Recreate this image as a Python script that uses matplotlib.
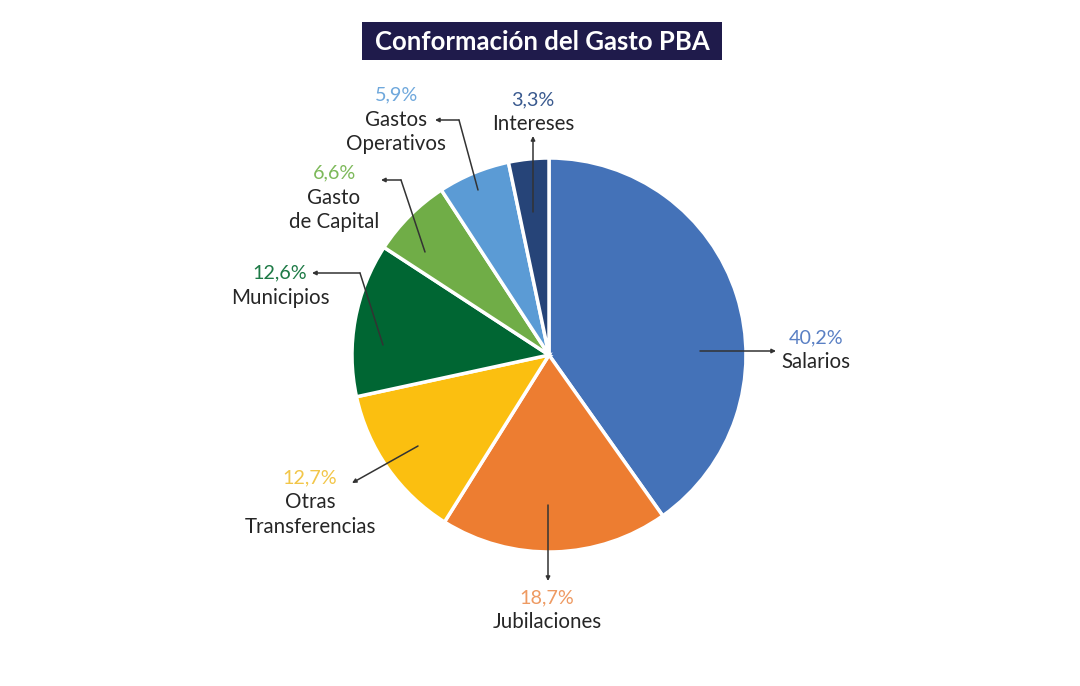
import matplotlib
matplotlib.use("Agg")
import matplotlib.pyplot as plt
from matplotlib.patches import Rectangle

plt.rcParams['font.family'] = ['Lato', 'DejaVu Sans']

title = "Conformación del Gasto PBA"
categories = ["Salarios", "Jubilaciones", "Otras\nTransferencias", "Municipios",
              "Gasto\nde Capital", "Gastos\nOperativos", "Intereses"]
values = [40.2, 18.7, 12.7, 12.6, 6.6, 5.9, 3.3]
pct_labels = ["40,2%", "18,7%", "12,7%", "12,6%", "6,6%", "5,9%", "3,3%"]
wedge_colors = ["#4472B8", "#ED7D31", "#FBBF10", "#006633", "#70AD47", "#5B9BD5", "#264478"]
pct_colors = ["#5A80C4", "#EE9A62", "#F2C649", "#1E7A46", "#7DB95A", "#6FA8DC", "#3A5A8F"]

W, H = 1080, 686
fig = plt.figure(figsize=(W / 100, H / 100), dpi=100)
ax = fig.add_axes([0, 0, 1, 1])

def Y(py):
    return H - py

# Pie
cx, cy, r = 549, 355, 197
ax.pie(values, colors=wedge_colors, startangle=90, counterclock=False,
       center=(cx, Y(cy)), radius=r, frame=True,
       wedgeprops=dict(edgecolor='white', linewidth=2.5))
ax.set_xlim(0, W)
ax.set_ylim(0, H)
ax.set_aspect('equal')
ax.axis('off')

# Title
ax.add_patch(Rectangle((362, Y(60)), 360, 38, facecolor='#1F1B4B', edgecolor='none'))
ax.text(542, Y(42), title, color='white', fontsize=18.5, fontweight='bold',
        ha='center', va='center')

# Label positions (percent line centre)
label_pos = [(816, 338), (547, 598), (310, 478), (280, 273), (334, 173), (396, 95), (533, 100)]
gap = 24.5

txt_color = '#262626'
for (x, y), name, pct, pc in zip(label_pos, categories, pct_labels, pct_colors):
    ax.text(x, Y(y), pct, color=pc, fontsize=14.2, ha='center', va='center')
    for i, line in enumerate(name.split("\n")):
        ax.text(x, Y(y + gap * (i + 1)), line, color=txt_color, fontsize=14.8,
                ha='center', va='center')

# Leader lines: list of polyline points, last point is arrow head
leaders = [
    [(700, 351), (776, 351)],
    [(548, 505), (548, 581)],
    [(418, 446), (352, 483)],
    [(383, 345), (360, 273), (312, 273)],
    [(425, 252), (401, 180), (381, 180)],
    [(478, 190), (459, 120), (435, 120)],
    [(533, 212), (533, 136)],
]
lc = '#333333'
for pts in leaders:
    if len(pts) > 2:
        xs = [p[0] for p in pts[:-1]]
        ys = [Y(p[1]) for p in pts[:-1]]
        ax.plot(xs, ys, color=lc, lw=1.1, solid_capstyle='round')
    (x0, y0), (x1, y1) = pts[-2], pts[-1]
    ax.annotate('', xy=(x1, Y(y1)), xytext=(x0, Y(y0)),
                arrowprops=dict(arrowstyle='-|>', color=lc, lw=1.1,
                                mutation_scale=6, shrinkA=0, shrinkB=0))

fig.savefig('out.png', dpi=100, facecolor='white')
